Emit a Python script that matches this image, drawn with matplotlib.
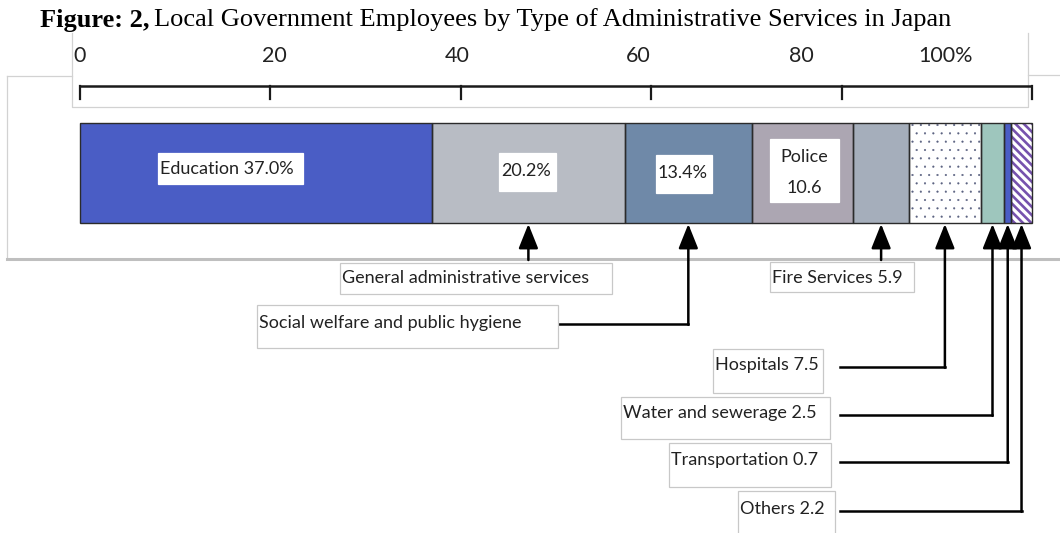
import matplotlib
matplotlib.use("Agg")
import numpy as np
import matplotlib.pyplot as plt
from matplotlib.patches import Rectangle

plt.rcParams['font.family'] = ['Lato', 'DejaVu Sans']

# shares of local government employees, in % (sum = 100)
services = ['Education', 'General administrative services', 'Social welfare and public hygiene',
            'Police', 'Fire Services', 'Hospitals', 'Water and sewerage', 'Transportation', 'Others']
shares = [37.0, 20.2, 13.4, 10.6, 5.9, 7.5, 2.5, 0.7, 2.2]
scale_ticks = [0, 20, 40, 60, 80, 100]
scale_labels = ['0', '20', '40', '60', '80', '100%']

colors = ['#4a5dc5', '#b8bcc4', '#6f89a8', '#aca6b2', '#a5aebb', 'white', '#9ec6bd', '#4a5dc5', 'white']
hatches = [None, None, None, None, None, '..', None, None, '\\\\\\\\']
hatch_colors = [None, None, None, None, None, '#5a6180', None, None, '#7652ad']
hatch_widths = [1, 1, 1, 1, 1, 0.3, 1, 1, 1.9]

W, H = 1060, 533
PX0, PX1 = 80, 1032          # pixel span of 0..100 %
ppu = (PX1 - PX0) / 100.0


def px(x):
    return (x - PX0) / ppu


fig = plt.figure(figsize=(W / 100, H / 100), dpi=100)
ax = fig.add_axes([0, 0, 1, 1])
ax.set_xlim(px(0), px(W))
ax.set_ylim(H, 0)
ax.axis('off')

# frames behind the chart
ax.plot([px(7), px(72)], [76, 76], color='#d2d2d2', lw=0.9)
ax.plot([px(1028), px(1060)], [75, 75], color='#d2d2d2', lw=0.9)
ax.plot([px(7), px(7)], [76, 258], color='#d2d2d2', lw=0.9)
ax.plot([px(7), px(1060)], [259, 259], color='#bfbfbf', lw=2.2)
ax.plot([px(72), px(72), px(1028), px(1028)], [33, 107, 107, 33], color='#d2d2d2', lw=0.9)

# percentage ruler
ax.plot([0, 100], [86, 86], color='#1a1a1a', lw=1.8, solid_capstyle='butt')
for t in scale_ticks:
    ax.plot([t, t], [86, 99], color='#1a1a1a', lw=1.6)
label_x = [0, 20.4, 39.6, 58.6, 75.8, 90.9]
for lx, lab in zip(label_x, scale_labels):
    ax.text(lx, 56, lab, ha='center', va='center', fontsize=15.5, color='#222222')

# stacked bar
y_top, y_bot = 123, 223
yc, bh = (y_top + y_bot) / 2, y_bot - y_top
lefts = np.concatenate([[0], np.cumsum(shares)[:-1]])
for left, w, c, h, hc, hw in zip(lefts, shares, colors, hatches, hatch_colors, hatch_widths):
    with plt.rc_context({'hatch.linewidth': hw}):
        if h:
            ax.barh(yc, w, left=left, height=bh, color=c, hatch=h, edgecolor=hc, lw=0)
        else:
            ax.barh(yc, w, left=left, height=bh, color=c, lw=0)
ax.barh(yc, shares, left=lefts, height=bh, color='none', edgecolor='#2b2b2b', lw=1.0)

txt_kw = dict(fontsize=13, color='#222222', va='center')


def boxed(x0, y0, x1, y1, edge='#c8c8c8'):
    ax.add_patch(Rectangle((px(x0), y0), (x1 - x0) / ppu, y1 - y0,
                           facecolor='white', edgecolor=edge, lw=0.9, zorder=3))


# labels inside the bar
boxed(158, 153, 303, 184, edge='white')
ax.text(px(160), 169, f'{services[0]} {shares[0]:.1f}%', zorder=4, **txt_kw)
boxed(499, 153, 556, 191, edge='white')
ax.text(px(501), 171, f'{shares[1]:.1f}%', zorder=4, **txt_kw)
boxed(656, 155, 712, 193, edge='white')
ax.text(px(658), 173, f'{shares[2]:.1f}%', zorder=4, **txt_kw)
boxed(770, 139, 839, 202, edge='white')
ax.text(px(804.5), 157, services[3], ha='center', zorder=4, **txt_kw)
ax.text(px(804.5), 188, f'{shares[3]:.1f}', ha='center', zorder=4, **txt_kw)

mids = lefts + np.array(shares) / 2
arrow_kw = dict(arrowstyle='-|>,head_length=0.75,head_width=0.3', color='black', lw=1.8,
                shrinkA=0, shrinkB=0, mutation_scale=20)

# callouts below the bar
boxed(340, 263, 612, 294)
ax.text(px(342), 278, services[1], zorder=4, **txt_kw)
ax.annotate('', xy=(mids[1], y_bot + 1), xytext=(mids[1], 260), arrowprops=arrow_kw)

boxed(257, 305, 558, 348)
ax.text(px(259), 323, services[2], zorder=4, **txt_kw)
ax.plot([px(533), mids[2]], [324, 324], color='black', lw=1.8)
ax.annotate('', xy=(mids[2], y_bot + 1), xytext=(mids[2], 324.8), arrowprops=arrow_kw)

boxed(770, 262, 914, 292)
ax.text(px(772), 278, f'{services[4]} {shares[4]}', zorder=4, **txt_kw)
ax.annotate('', xy=(mids[4], y_bot + 1), xytext=(mids[4], 260), arrowprops=arrow_kw)

right_boxes = [(5, 713, 349, 823, 393, 367),
               (6, 621, 397, 830, 439, 415),
               (7, 669, 443, 831, 487, 462),
               (8, 738, 491, 835, 545, 511)]
for i, x0, y0, x1, y1, ly in right_boxes:
    boxed(x0, y0, x1, y1)
    ax.text(px(x0 + 2), ly - 2, f'{services[i]} {shares[i]}', zorder=4, **txt_kw)
    ax.plot([px(840), mids[i]], [ly, ly], color='black', lw=1.8)
    ax.annotate('', xy=(mids[i], y_bot + 1), xytext=(mids[i], ly + 0.8), arrowprops=arrow_kw)

# title
r = fig.canvas.get_renderer()
t1 = ax.text(px(40), 20, 'Figure: 2,', fontsize=19, fontweight='bold',
             family='Liberation Serif', va='center', color='black')
bb = t1.get_window_extent(renderer=r)
ax.text(px(40) + (bb.width + 5) / ppu, 20,
        'Local Government Employees by Type of Administrative Services in Japan',
        fontsize=19, family='Liberation Serif', va='center', color='black')

fig.savefig('out.png', dpi=100)
